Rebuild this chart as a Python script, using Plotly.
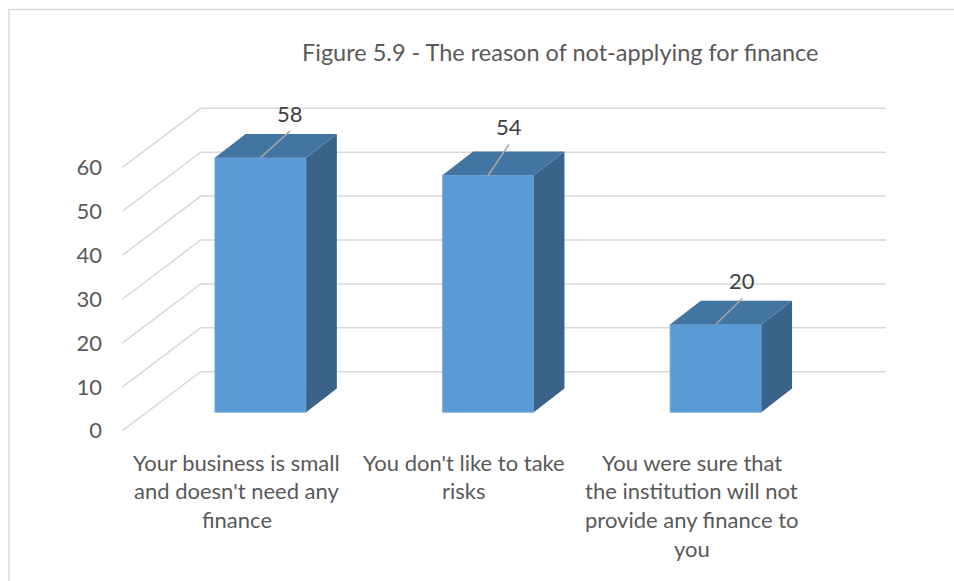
import plotly.graph_objects as go

# ---- data ----
categories = [
    ["Your business is small", "and doesn't need any", "finance"],
    ["You don't like to take", "risks"],
    ["You were sure that", "the institution will not", "provide any finance to", "you"],
]
values = [58, 54, 20]
y_ticks = [0, 10, 20, 30, 40, 50, 60]
title_text = "Figure 5.9 - The reason of not-applying for finance"

# ---- page / projection geometry (pixels) ----
W, H = 954, 581
X0_PX, PX_PER_CAT = 260.5, 227.6      # pixel x of first category, pixels per category
Y0_PX, PX_PER_UNIT = 412.3, 4.39      # pixel y of bar floor, pixels per value unit

def px_to_x(px):
    return (px - X0_PX) / PX_PER_CAT

def px_to_y(py):
    return (Y0_PX - py) / PX_PER_UNIT

BAR_W = 91.3 / PX_PER_CAT
DEPTH_X = 30.7 / PX_PER_CAT           # bar depth, shown as an oblique offset
DEPTH_Y = 23.7 / PX_PER_UNIT
WALL_FRONT_X = px_to_x(122.5)          # left end of the floor/side-wall grid lines
WALL_BACK_X = px_to_x(200.7)           # left edge of the back wall
WALL_RIGHT_X = px_to_x(886.0)          # right edge of the back wall
FRONT_DY = -18.4 / PX_PER_UNIT         # grid front edge relative to the bar plane
BACK_DY = 40.6 / PX_PER_UNIT           # back wall relative to the bar plane
LABEL_SHIFT = -24.0 / PX_PER_CAT       # category labels sit in the front plane

FRONT = "#5b9bd5"
TOP = "#4275a2"
SIDE = "#3a6389"
GRID = "#d9d9d9"
TEXT = "#595959"
FONT = "Lato"

# leader line offsets (pixels) for each value label
leader_off = [(29.5, 26.6), (21.0, 31.0), (26.7, 26.0)]

xs = list(range(len(values)))

fig = go.Figure()
fig.add_trace(go.Bar(
    x=xs, y=values, width=BAR_W,
    marker=dict(color=FRONT, line=dict(color="#78aee0", width=0.8)),
    hoverinfo="skip", showlegend=False,
))

shapes = []
# back wall and side wall grid lines
for v in y_ticks:
    shapes.append(dict(
        type="path", layer="below", xref="x", yref="y",
        path=(f"M {WALL_FRONT_X},{v + FRONT_DY} L {WALL_BACK_X},{v + BACK_DY} "
              f"L {WALL_RIGHT_X},{v + BACK_DY}"),
        line=dict(color=GRID, width=1.5),
    ))

# 3-D faces of each column
for x, v in zip(xs, values):
    xl, xr = x - BAR_W / 2, x + BAR_W / 2
    shapes.append(dict(
        type="path", layer="above", xref="x", yref="y",
        path=(f"M {xr},0 L {xr + DEPTH_X},{DEPTH_Y} L {xr + DEPTH_X},{v + DEPTH_Y} "
              f"L {xr},{v} Z"),
        fillcolor=SIDE, line=dict(width=0),
    ))
    shapes.append(dict(
        type="path", layer="above", xref="x", yref="y",
        path=(f"M {xl},{v} L {xr},{v} L {xr + DEPTH_X},{v + DEPTH_Y} "
              f"L {xl + DEPTH_X},{v + DEPTH_Y} Z"),
        fillcolor=TOP, line=dict(width=0),
    ))

annotations = []
# value labels with leader lines
for x, v, (dx, dy) in zip(xs, values, leader_off):
    ex, ey = x + dx / PX_PER_CAT, v + dy / PX_PER_UNIT
    shapes.append(dict(
        type="line", layer="above", xref="x", yref="y",
        x0=x, y0=v, x1=ex, y1=ey,
        line=dict(color="#a6a6a6", width=1.5),
    ))
    annotations.append(dict(
        x=ex, y=ey + 17.7 / PX_PER_UNIT, xref="x", yref="y",
        text=str(v), showarrow=False, xanchor="center", yanchor="middle",
        font=dict(family=FONT, size=22, color="#404040"),
    ))

# category labels, one annotation per line
LINE_TOP_PX, LINE_STEP_PX = 462.0, 28.8
for x, lines in zip(xs, categories):
    for k, line in enumerate(lines):
        annotations.append(dict(
            x=x + LABEL_SHIFT, y=1 - (LINE_TOP_PX + k * LINE_STEP_PX) / H,
            xref="x", yref="paper", text=line, showarrow=False,
            xanchor="center", yanchor="middle",
            font=dict(family=FONT, size=22, color=TEXT),
        ))

# title
annotations.append(dict(
    x=560 / W, y=1 - 52 / H, xref="paper", yref="paper", text=title_text,
    showarrow=False, xanchor="center", yanchor="middle",
    font=dict(family=FONT, size=23.5, color=TEXT),
))

# chart frame (left and top edges)
shapes.append(dict(
    type="path", xref="paper", yref="paper", layer="below",
    path=f"M {9 / W},0 L {9 / W},{1 - 9.5 / H} L 1,{1 - 9.5 / H}",
    line=dict(color=GRID, width=1.5),
))

fig.update_layout(
    width=W, height=H, autosize=False,
    margin=dict(l=0, r=0, t=0, b=0, pad=0),
    paper_bgcolor="white", plot_bgcolor="white",
    showlegend=False,
    xaxis=dict(range=[px_to_x(0), px_to_x(W)], visible=False, fixedrange=True),
    yaxis=dict(range=[px_to_y(H), px_to_y(0)], visible=False, fixedrange=True),
    yaxis2=dict(
        overlaying="y", anchor="free", position=102 / W, side="left",
        range=[(430.7 - H) / PX_PER_UNIT, 430.7 / PX_PER_UNIT],
        tickvals=y_ticks, ticks="", showgrid=False, zeroline=False, showline=False,
        tickfont=dict(family=FONT, size=22, color=TEXT),
    ),
    shapes=shapes, annotations=annotations,
)
# invisible trace to bring up the value axis
fig.add_trace(go.Scatter(x=[0], y=[0], yaxis="y2", mode="markers",
                         marker=dict(opacity=0), hoverinfo="skip", showlegend=False))

fig.write_html("out.html")
